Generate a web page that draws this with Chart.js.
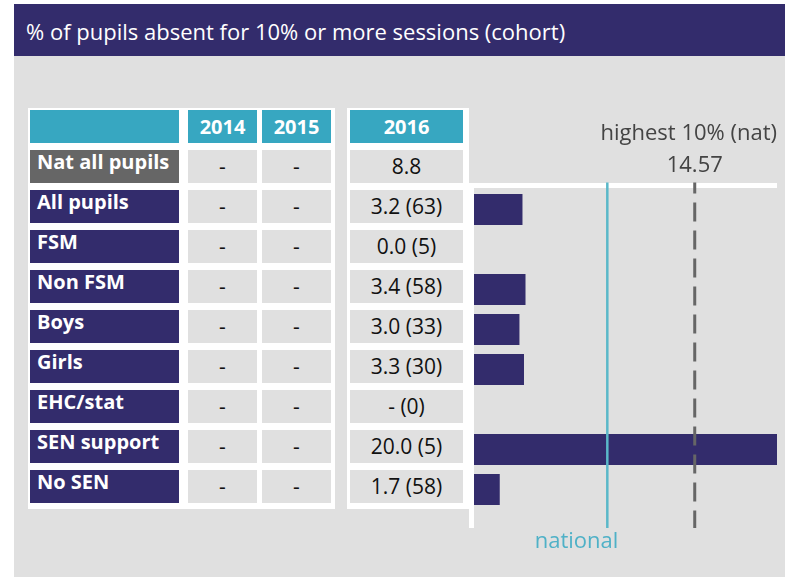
<!DOCTYPE html>
<html>
<head>
<meta charset="utf-8">
<script src="https://cdn.jsdelivr.net/npm/chart.js@4"></script>
<style>
  body { margin: 0; background: #ffffff; font-family: 'Open Sans', sans-serif; }
  .abs { position: absolute; box-sizing: border-box; }
  #bg { left: 14px; top: 4px; width: 771px; height: 573px; background: #e0e0e0; }
  #title { left: 14px; top: 4px; width: 771px; height: 52px; background: #332c6c; color: #fff;
           font-size: 22px; padding-left: 12px; padding-top: 1px; line-height: 52px; }
  .panel { background: #ffffff; }
  .cell { background: #e0e0e0; color: #111; font-size: 21px; display: flex; align-items: center; justify-content: center; padding-bottom: 2px; }
  .head { background: #37a7c1; color: #fff; font-weight: bold; font-size: 20px; display: flex; align-items: center; justify-content: center; }
  .lab { background: #332c6c; color: #fff; font-weight: bold; font-size: 20px; padding-left: 7px; line-height: 20px; padding-top: 2px; }
  .lab.nat { background: #666666; }
  #chartBox { left: 440px; top: 100px; width: 347px; height: 477px; }
</style>
</head>
<body>
<div id="bg" class="abs"></div>
<div id="title" class="abs">% of pupils absent for 10% or more sessions (cohort)</div>
<div id="table"></div>
<div id="chartBox" class="abs"><canvas id="absenceChart" width="347" height="477"></canvas></div>
<script>
// Datos del gráfico
const years = ['2014', '2015', '2016'];
const categories = ['All pupils', 'FSM', 'Non FSM', 'Boys', 'Girls', 'EHC/stat', 'SEN support', 'No SEN'];
const pct2014 = [null, null, null, null, null, null, null, null];
const pct2015 = [null, null, null, null, null, null, null, null];
const pct2016 = [3.2, 0.0, 3.4, 3.0, 3.3, null, 20.0, 1.7];
const cohort2016 = [63, 5, 58, 33, 30, 0, 5, 58];
const natLabel = 'Nat all pupils';
const natByYear = [null, null, 8.8];
const highest10 = 14.57;

// Tabla de la izquierda
const table = document.getElementById('table');
function box(cls, left, top, w, h, text) {
  const d = document.createElement('div');
  d.className = 'abs ' + cls;
  d.style.left = left + 'px';
  d.style.top = top + 'px';
  d.style.width = w + 'px';
  d.style.height = h + 'px';
  if (text !== undefined) d.textContent = text;
  table.appendChild(d);
  return d;
}
function fmt(v) { return v === null ? '-' : v.toFixed(1); }

box('panel', 28, 108, 307, 401);
box('panel', 347, 108, 122, 401);
box('head', 30, 110, 149, 33, '');
box('head', 188, 110, 69, 33, years[0]);
box('head', 262, 110, 69, 33, years[1]);
box('head', 350, 110, 113, 33, years[2]);

box('lab nat', 30, 150, 149, 33, natLabel);
box('cell', 188, 150, 69, 33, fmt(natByYear[0]));
box('cell', 262, 150, 69, 33, fmt(natByYear[1]));
box('cell', 350, 150, 113, 33, fmt(natByYear[2]));

categories.forEach(function(cat, i) {
  const top = 190 + 40 * i;
  box('lab', 30, top, 149, 33, cat);
  box('cell', 188, top, 69, 33, fmt(pct2014[i]));
  box('cell', 262, top, 69, 33, fmt(pct2015[i]));
  box('cell', 350, top, 113, 33, fmt(pct2016[i]) + ' (' + cohort2016[i] + ')');
});

// Líneas de referencia y ejes blancos
const refLines = {
  id: 'refLines',
  beforeDatasetsDraw(chart) {
    const ctx = chart.ctx, a = chart.chartArea;
    ctx.save();
    ctx.fillStyle = '#ffffff';
    ctx.fillRect(a.left - 5, a.top - 6.5, 5, 345);
    ctx.fillRect(a.left - 5, a.top - 6.5, a.right - a.left + 5, 5);
    ctx.restore();
  },
  afterDatasetsDraw(chart) {
    const ctx = chart.ctx, a = chart.chartArea;
    const x = chart.scales.x;
    const top = a.top - 7, bottom = a.top + 338.5;
    const xn = x.getPixelForValue(natByYear[2]);
    const xh = x.getPixelForValue(highest10);
    ctx.save();
    ctx.strokeStyle = '#5ab8c9';
    ctx.lineWidth = 2.5;
    ctx.beginPath(); ctx.moveTo(xn, top); ctx.lineTo(xn, bottom); ctx.stroke();
    ctx.strokeStyle = '#666666';
    ctx.lineWidth = 3;
    ctx.setLineDash([19, 9]);
    ctx.lineDashOffset = 8;
    ctx.beginPath(); ctx.moveTo(xh, top); ctx.lineTo(xh, bottom); ctx.stroke();
    ctx.setLineDash([]);
    ctx.font = '22px "Open Sans"';
    ctx.fillStyle = '#444444';
    ctx.textAlign = 'right';
    ctx.fillText('highest 10% (nat)', a.right, 40);
    ctx.textAlign = 'center';
    ctx.fillText(String(highest10), xh, 72);
    ctx.fillStyle = '#4fb1c7';
    ctx.textAlign = 'right';
    ctx.fillText('national', xn + 11, 448);
    ctx.restore();
  }
};

const ctx = document.getElementById('absenceChart').getContext('2d');
const absenceChart = new Chart(ctx, {
  type: 'bar',
  data: {
    labels: categories,
    datasets: [{
      label: '2016',
      data: pct2016,
      backgroundColor: '#332c6c',
      barPercentage: 0.775,
      categoryPercentage: 1.0
    }]
  },
  options: {
    indexAxis: 'y',
    responsive: false,
    animation: false,
    layout: { padding: { left: 34, right: 10, top: 89.5, bottom: 67.5 } },
    scales: {
      x: { display: false, min: 0, max: 20 },
      y: { display: false }
    },
    plugins: {
      legend: { display: false },
      tooltip: { enabled: false }
    }
  },
  plugins: [refLines]
});
</script>
</body>
</html>
